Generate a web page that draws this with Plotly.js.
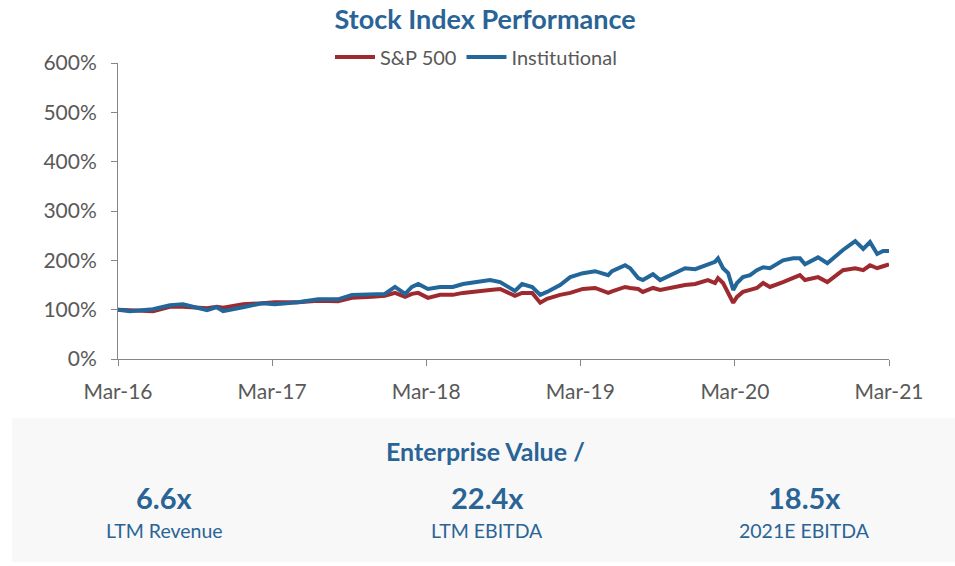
<!DOCTYPE html>
<html>
<head>
<meta charset="utf-8">
<script src="https://cdn.plot.ly/plotly-3.0.1.min.js"></script>
<style>html,body{margin:0;padding:0;background:#fff;}#chart{width:955px;height:566px;}</style>
</head>
<body>
<div id="chart"></div>
<script>
const dates = ["2016-03-01","2016-03-29","2016-05-23","2016-07-02","2016-08-02","2016-09-28","2016-10-21","2016-11-05","2016-12-22","2017-02-05","2017-03-08","2017-05-01","2017-06-18","2017-08-04","2017-09-06","2017-10-24","2017-11-23","2017-12-17","2018-01-10","2018-01-26","2018-02-10","2018-03-05","2018-04-03","2018-05-03","2018-05-27","2018-07-30","2018-08-23","2018-09-27","2018-10-14","2018-11-07","2018-11-26","2018-12-12","2019-01-12","2019-02-05","2019-03-07","2019-04-05","2019-05-06","2019-05-15","2019-06-15","2019-06-27","2019-07-16","2019-07-27","2019-08-20","2019-09-06","2019-10-11","2019-11-04","2019-11-28","2019-12-28","2020-01-14","2020-01-21","2020-02-02","2020-02-14","2020-02-26","2020-03-06","2020-03-20","2020-04-06","2020-04-22","2020-05-07","2020-05-23","2020-06-23","2020-07-17","2020-08-02","2020-08-14","2020-09-14","2020-10-06","2020-11-12","2020-12-11","2020-12-30","2021-01-15","2021-02-01","2021-02-15","2021-03-01"];
const institutional = [100,97,101,109,111,99,105,97,105,113,111,115,121,121,130,132,132,146,132,146,152,142,146,146,152,160,156,138,152,146,130,136,150,166,174,178,170,178,190,184,164,160,172,160,174,184,182,192,197,204,184,174,140,154,166,170,180,186,184,200,204,204,192,206,194,221,239,223,237,213,219,219];
const sp500 = [100,99,97,106,106,103,106,104,111,113,115,115,118,117,124,126,128,134,126,132,134,124,130,130,134,140,142,128,134,134,114,122,130,134,142,144,134,137,146,144,142,136,144,140,146,150,152,160,154,164,154,134,114,126,136,140,144,154,146,156,164,170,160,166,156,180,184,180,190,184,188,192];
const yTickVals = [0,100,200,300,400,500,600];
const yTickText = ["0%","100%","200%","300%","400%","500%","600%"];
const xTickVals = ["2016-03-01","2017-03-01","2018-03-01","2019-03-01","2020-03-01","2021-03-01"];
const xTickText = ["Mar-16","Mar-17","Mar-18","Mar-19","Mar-20","Mar-21"];
const evHeader = "Enterprise Value /";
const multiples = ["6.6x","22.4x","18.5x"];
const multipleLabels = ["LTM Revenue","LTM EBITDA","2021E EBITDA"];

const FONT = "Lato, 'Open Sans', sans-serif";
const BLUE = "#23679A";
const RED = "#9E2A30";
const TXT = "#2A6496";

const traces = [
  {x: dates, y: sp500, name: "S&P 500", type: "scatter", mode: "lines", line: {color: RED, width: 4}},
  {x: dates, y: institutional, name: "Institutional", type: "scatter", mode: "lines", line: {color: BLUE, width: 4}}
];

const toPx = (px) => (px - 118) / 771;
const toPy = (py) => (359 - py) / 296;
const colX = [164, 487, 804];

const annotations = [
  {text: evHeader, xref: "paper", yref: "paper", x: toPx(485), y: toPy(451), showarrow: false, xanchor: "center", yanchor: "middle",
   font: {family: FONT, size: 25, color: TXT, weight: 700}}
];
multiples.forEach((m, i) => {
  annotations.push({text: m, xref: "paper", yref: "paper", x: toPx(colX[i]), y: toPy(497), showarrow: false, xanchor: "center", yanchor: "middle",
    font: {family: FONT, size: 29, color: TXT, weight: 700}});
  annotations.push({text: multipleLabels[i], xref: "paper", yref: "paper", x: toPx(colX[i]), y: toPy(530), showarrow: false, xanchor: "center", yanchor: "middle",
    font: {family: FONT, size: 19.5, color: TXT}});
});

const layout = {
  width: 955, height: 566,
  margin: {l: 118, r: 66, t: 63, b: 207},
  paper_bgcolor: "#ffffff", plot_bgcolor: "#ffffff",
  font: {family: FONT, color: "#595959"},
  title: {text: "Stock Index Performance", x: 0.508, xanchor: "center", y: 1 - 20/566, yanchor: "middle",
          font: {family: FONT, size: 27, color: TXT, weight: 700}},
  showlegend: true,
  legend: {orientation: "h", x: toPx(476), xanchor: "center", y: toPy(57), yanchor: "middle", itemwidth: 40,
           font: {family: FONT, size: 20, color: "#595959"}, bgcolor: "rgba(0,0,0,0)", traceorder: "normal"},
  xaxis: {type: "date", range: ["2016-03-01","2021-03-01"], tickmode: "array", tickvals: xTickVals, ticktext: xTickText,
          showgrid: false, zeroline: false, showline: true, linecolor: "#868686", linewidth: 1, ticklabelstandoff: 8,
          ticks: "outside", ticklen: 6, tickcolor: "#868686", tickfont: {family: FONT, size: 21, color: "#595959"}, fixedrange: true},
  yaxis: {range: [0, 600], tickmode: "array", tickvals: yTickVals, ticktext: yTickText,
          showgrid: false, zeroline: false, showline: true, linecolor: "#868686", linewidth: 1, ticklabelstandoff: 10,
          ticks: "outside", ticklen: 6, tickcolor: "#868686", tickfont: {family: FONT, size: 21, color: "#595959"}, fixedrange: true},
  shapes: [
    {type: "rect", xref: "paper", yref: "paper", x0: toPx(12), x1: toPx(955), y0: toPy(562), y1: toPy(418),
     fillcolor: "#F8F8F8", line: {width: 0}, layer: "below"}
  ],
  annotations: annotations
};

Plotly.newPlot("chart", traces, layout, {displayModeBar: false, staticPlot: true});
</script>
</body>
</html>
